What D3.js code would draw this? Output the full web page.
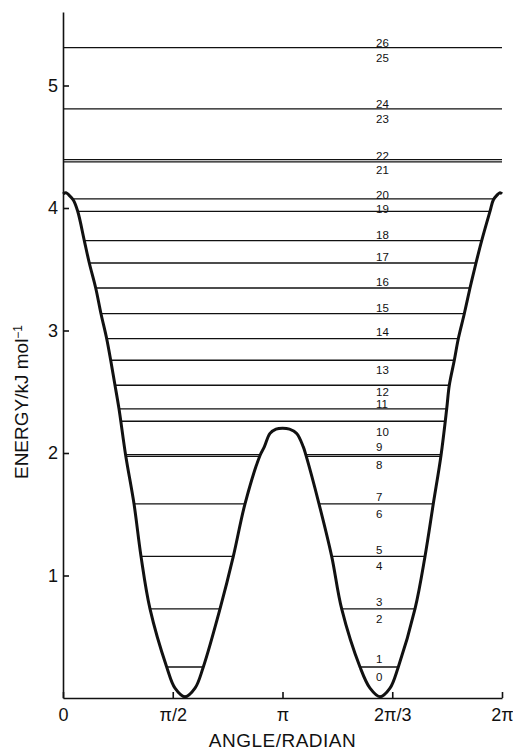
<!DOCTYPE html>
<html>
<head>
<meta charset="utf-8">
<script src="https://cdn.jsdelivr.net/npm/d3@7"></script>
<style>
  body { margin: 0; background: #fff; }
  text { font-family: "Liberation Sans", Arial, sans-serif; fill: #111; }
</style>
</head>
<body>
<div id="wrapper"></div>
<script>
// potential curve: angle in units of pi, energy in kJ/mol
const curveAngle = [
  0, 0.0137, 0.0273, 0.0469, 0.067, 0.097, 0.1198, 0.149, 0.1731, 0.1991,
  0.2173, 0.2369, 0.2551, 0.2856, 0.3235, 0.3554, 0.3964, 0.4724, 0.5103,
  0.5558, 0.6014, 0.6392, 0.7153, 0.7759, 0.8292, 0.8975, 0.9171, 0.9431, 0.9704,
  1.0, 1.0319, 1.0647, 1.0948, 1.1071, 1.1663, 1.2241, 1.2697, 1.3531, 1.3986,
  1.4442, 1.4897, 1.5276, 1.6036, 1.6492, 1.687, 1.7221, 1.7481, 1.7599,
  1.7827, 1.8009, 1.8282, 1.8542, 1.8815, 1.9075, 1.9453, 1.9604, 1.9772, 1.9909, 2.0
]
const curveEnergy = [
  4.115, 4.125, 4.105, 4.065, 3.973, 3.734, 3.551, 3.347, 3.137, 2.933,
  2.757, 2.553, 2.361, 1.98, 1.585, 1.156, 0.727, 0.253, 0.08,
  0.01, 0.08, 0.253, 0.727, 1.156, 1.585, 1.98, 2.05, 2.16, 2.195,
  2.203, 2.195, 2.16, 2.05, 1.98, 1.585, 1.156, 0.727, 0.253, 0.08,
  0.01, 0.08, 0.253, 0.727, 1.156, 1.585, 1.98, 2.361, 2.553,
  2.757, 2.933, 3.137, 3.347, 3.551, 3.734, 3.973, 4.065, 4.105, 4.125, 4.115
]

// energy levels (horizontal lines)
const levelEnergy = [
  5.31, 4.81, 4.395, 4.377, 4.074, 3.973, 3.734, 3.551, 3.347, 3.137,
  2.933, 2.757, 2.553, 2.361, 2.259, 1.987, 1.973, 1.585, 1.156, 0.727, 0.253
]

// level numbers and the energy at which each is written
const levelLabels = [
  "26", "25", "24", "23", "22", "21", "20", "19", "18", "17", "16", "15", "14",
  "13", "12", "11", "10", "9", "8", "7", "6", "5", "4", "3", "2", "1", "0"
]
const labelEnergy = [
  5.348, 5.226, 4.853, 4.728, 4.428, 4.314, 4.109, 3.995, 3.783, 3.6, 3.393, 3.184, 2.988,
  2.68, 2.5, 2.405, 2.176, 2.048, 1.904, 1.645, 1.501, 1.209, 1.078, 0.784, 0.643, 0.316, 0.174
]

const xTickValues = [0, 0.5, 1, 1.5, 2]
const xTickLabels = ["0", "π/2", "π", "2π/3", "2π"]
const yTickValues = [1, 2, 3, 4, 5]

const width = 513
const height = 750
const margin = { top: 12, right: 11, bottom: 52, left: 63 }

const svg = d3.select("#wrapper")
  .append("svg")
  .attr("width", width)
  .attr("height", height)

const xScale = d3.scaleLinear()
  .domain([0, 2])
  .range([margin.left, width - margin.right])
const yScale = d3.scaleLinear()
  .domain([0, 5.6])
  .range([height - margin.bottom, margin.top])

const curvePoints = curveAngle.map((a, i) => [a, curveEnergy[i]])

// where each level meets the curve -> segments inside the wells
function segmentsFor(level) {
  const e = level + 1e-5 // avoid landing exactly on a curve point
  const cross = []
  for (let i = 0; i < curvePoints.length - 1; i++) {
    const [a0, e0] = curvePoints[i]
    const [a1, e1] = curvePoints[i + 1]
    if ((e0 - e) * (e1 - e) < 0) {
      cross.push(a0 + ((e - e0) / (e1 - e0)) * (a1 - a0))
    }
  }
  if (cross.length < 2) return [[0, 2]]
  const segs = []
  for (let i = 0; i + 1 < cross.length; i += 2) segs.push([cross[i], cross[i + 1]])
  return segs
}

// levels
const levels = svg.append("g")
levelEnergy.forEach(e => {
  segmentsFor(e).forEach(([a0, a1]) => {
    levels.append("line")
      .attr("x1", xScale(a0))
      .attr("x2", xScale(a1))
      .attr("y1", yScale(e))
      .attr("y2", yScale(e))
      .attr("stroke", "#111")
      .attr("stroke-width", 1.3)
  })
})

// potential curve
svg.append("path")
  .datum(curvePoints)
  .attr("fill", "none")
  .attr("stroke", "#111")
  .attr("stroke-width", 3)
  .attr("stroke-linejoin", "round")
  .attr("d", d3.line()
    .x(d => xScale(d[0]))
    .y(d => yScale(d[1]))
    .curve(d3.curveCatmullRom.alpha(0.5)))

// level numbers
svg.append("g")
  .selectAll("text")
  .data(levelLabels)
  .join("text")
  .attr("x", xScale(1.426))
  .attr("y", (d, i) => yScale(labelEnergy[i]))
  .attr("dy", "0.36em")
  .style("font-size", "11.5px")
  .text(d => d)

// axes
const xAxis = d3.axisBottom(xScale)
  .tickValues(xTickValues)
  .tickFormat((d, i) => xTickLabels[i])
  .tickSizeInner(-6)
  .tickSizeOuter(0)
  .tickPadding(10)
const yAxis = d3.axisLeft(yScale)
  .tickValues(yTickValues)
  .tickFormat(d3.format("d"))
  .tickSizeInner(-6)
  .tickSizeOuter(0)
  .tickPadding(5)

const gx = svg.append("g")
  .attr("transform", `translate(0, ${yScale(0)})`)
  .call(xAxis)
const gy = svg.append("g")
  .attr("transform", `translate(${xScale(0)}, 0)`)
  .call(yAxis)

;[gx, gy].forEach(g => {
  g.select(".domain").attr("stroke", "#111").attr("stroke-width", 1.6)
  g.selectAll(".tick line").attr("stroke", "#111").attr("stroke-width", 1.6)
  g.selectAll(".tick text")
    .style("font-family", "'Liberation Sans', Arial, sans-serif")
    .style("font-size", "18px")
    .attr("fill", "#111")
})

// axis titles
svg.append("text")
  .attr("x", xScale(1))
  .attr("y", height - 3)
  .attr("text-anchor", "middle")
  .style("font-size", "19px")
  .style("letter-spacing", "0.5px")
  .text("ANGLE/RADIAN")

const yTitle = svg.append("text")
  .attr("transform", `translate(28, 402) rotate(-90)`)
  .attr("text-anchor", "middle")
  .style("font-size", "19px")
yTitle.append("tspan").text("ENERGY/kJ mol")
yTitle.append("tspan")
  .attr("dy", "-0.5em")
  .style("font-size", "12px")
  .text("−1")
</script>
</body>
</html>
